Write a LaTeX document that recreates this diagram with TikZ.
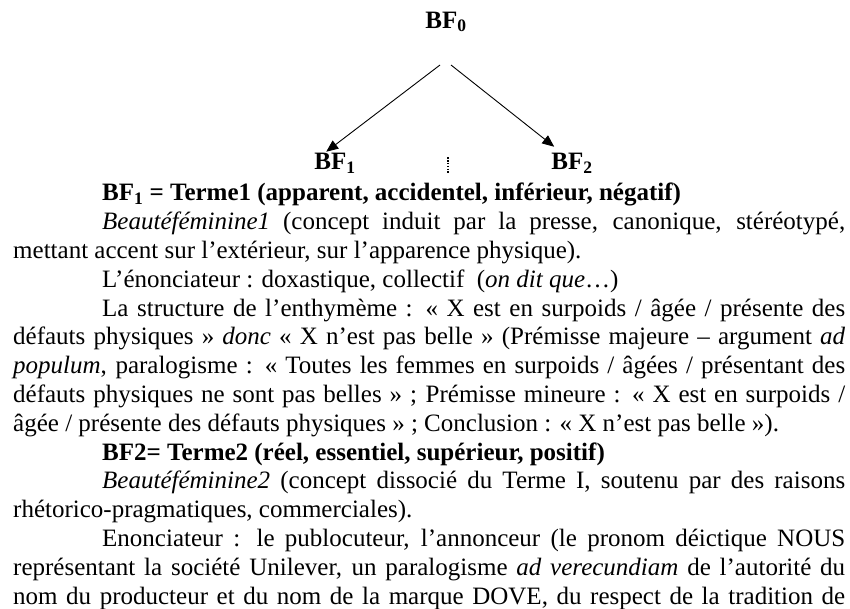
\documentclass[tikz,border=0pt]{standalone}
\usepackage{fontspec}
\setmainfont{Liberation Serif}
\usetikzlibrary{arrows.meta}

\begin{document}
\begin{tikzpicture}[x=1pt,y=-1pt,
    term/.style = {font=\fontsize{25}{28.8}\selectfont\bfseries, inner sep=0pt},
    branch/.style = {line width=0.9pt, -{Triangle[length=12pt,width=10pt]}},
    body/.style = {anchor=north west, text width=832pt, inner sep=0pt, align=justify,
                   font=\fontsize{25}{28.8}\selectfont}]
  \useasboundingbox (0,0) rectangle (850,608);
  % the split
  \node[term] (bf0) at (446,22) {BF\textsubscript{0}};
  \node[term] (bf1) at (335,163) {BF\textsubscript{1}};
  \node[term] (bf2) at (572,163) {BF\textsubscript{2}};
  \node[minimum height=15pt, minimum width=2pt, inner sep=0pt] (sep) at (448,165) {};
  \coordinate (fork1) at (440,65);
  \coordinate (fork2) at (451,65);

  \draw[branch] (fork1) -- ([xshift=12pt,yshift=1pt]bf1.north west);
  \draw[branch] (fork2) -- ([xshift=3pt,yshift=6pt]bf2.north west);
  \draw[line width=1.6pt, dash pattern=on 1.5pt off 1.3pt] (sep.north) -- (sep.south);

  % the text
  \node[body] (text) at (13,183) {\setlength{\parindent}{89pt}\indent
    \textbf{BF\textsubscript{1} = Terme1 (apparent, accidentel, inférieur, négatif)}

    \textit{Beautéféminine1} (concept induit par la presse, canonique, stéréotypé,\linebreak
    mettant accent sur l’extérieur, sur l’apparence physique).

    L’énonciateur : doxastique, collectif \ (\textit{on dit que}…)

    La structure de l’enthymème : «~X est en surpoids / âgée / présente des\linebreak
    défauts physiques~» \textit{donc} «~X n’est pas belle~» (Prémisse majeure – argument \textit{ad}\linebreak
    \textit{populum}, paralogisme : «~Toutes les femmes en surpoids / âgées / présentant des\linebreak
    défauts physiques ne sont pas belles~» ; Prémisse mineure : «~X est en surpoids /\linebreak
    âgée / présente des défauts physiques~» ; Conclusion : «~X n’est pas belle~»).

    \textbf{BF2= Terme2 (réel, essentiel, supérieur, positif)}

    \textit{Beautéféminine2} (concept dissocié du Terme I, soutenu par des raisons\linebreak
    rhétorico-pragmatiques, commerciales).

    {\parfillskip=0pt Enonciateur : le publocuteur, l’annonceur (le pronom déictique NOUS\linebreak
    représentant la société Unilever, un paralogisme \textit{ad verecundiam} de l’autorité du\linebreak
    nom du producteur et du nom de la marque DOVE, du respect de la tradition de\par}};
\end{tikzpicture}
\end{document}
